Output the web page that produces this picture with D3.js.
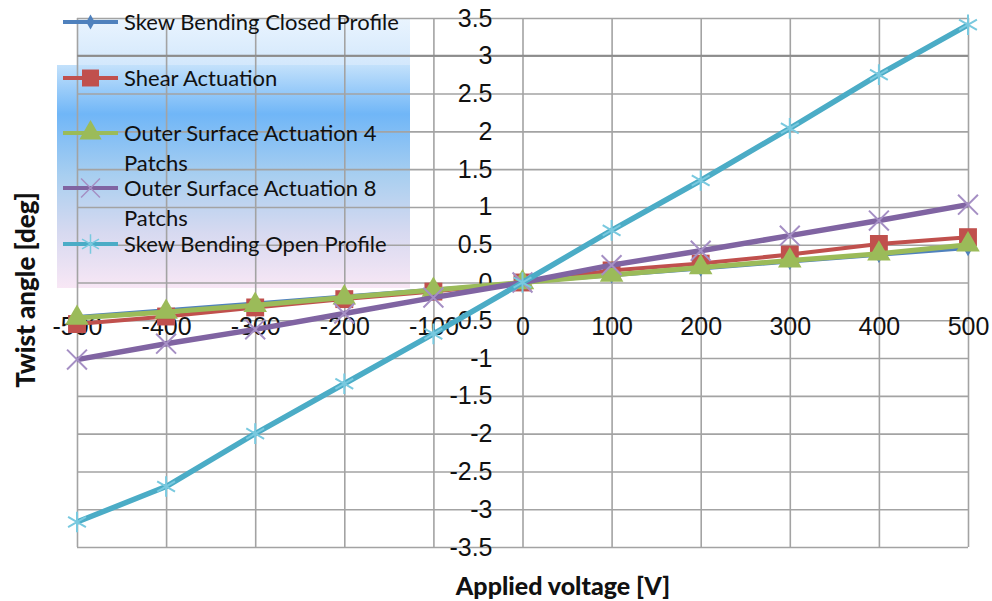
<!DOCTYPE html>
<html>
<head>
<meta charset="utf-8">
<script src="https://cdn.jsdelivr.net/npm/d3@7"></script>
<style>
  body { margin: 0; background: #fff; }
  svg { display: block; font-family: Lato, "Noto Sans", sans-serif; }
  .grid line { stroke: #a3a3a3; stroke-width: 1.6; }
  .grid .domain { display: none; }
  .ticks text { font-size: 25px; fill: #111; }
  .ticks .domain, .ticks line { display: none; }
</style>
</head>
<body>
<div id="chart"></div>
<script>
// data
var voltage = [-500, -400, -300, -200, -100, 0, 100, 200, 300, 400, 500];
var closedProfile = [-0.45, -0.36, -0.27, -0.18, -0.09, 0, 0.09, 0.18, 0.27, 0.36, 0.45];
var shearActuation = [-0.55, -0.45, -0.33, -0.22, -0.12, 0, 0.16, 0.25, 0.37, 0.51, 0.6];
var outer4Patches = [-0.47, -0.39, -0.3, -0.2, -0.1, 0, 0.1, 0.2, 0.29, 0.38, 0.5];
var outer8Patches = [-1.02, -0.81, -0.62, -0.41, -0.2, 0, 0.23, 0.42, 0.62, 0.82, 1.03];
var openProfile = [-3.17, -2.7, -2.0, -1.34, -0.68, 0, 0.69, 1.35, 2.04, 2.75, 3.41];

var xTicks = [-500, -400, -300, -200, -100, 0, 100, 200, 300, 400, 500];
var yTicks = [3.5, 3, 2.5, 2, 1.5, 1, 0.5, 0, -0.5, -1, -1.5, -2, -2.5, -3, -3.5];

var seriesNames = ["Skew Bending Closed Profile", "Shear Actuation",
  "Outer Surface Actuation 4 Patchs", "Outer Surface Actuation 8 Patchs",
  "Skew Bending Open Profile"];

var series = [
  {name: seriesNames[0], values: closedProfile, color: "#4f81bd", width: 3,
   symbol: d3.symbolDiamond, size: 70, mark: "#4f81bd", stroked: false},
  {name: seriesNames[1], values: shearActuation, color: "#c0504d", width: 4,
   symbol: d3.symbolSquare, size: 320, mark: "#c0504d", stroked: false},
  {name: seriesNames[2], values: outer4Patches, color: "#9bbb59", width: 5,
   symbol: d3.symbolTriangle, size: 240, mark: "#9bbb59", stroked: false},
  {name: seriesNames[3], values: outer8Patches, color: "#8064a2", width: 5.5,
   symbol: d3.symbolTimes, size: 260, mark: "#a58fc4", stroked: true},
  {name: seriesNames[4], values: openProfile, color: "#4bacc6", width: 5.5,
   symbol: d3.symbolAsterisk, size: 300, mark: "#79c9df", stroked: true}
];

var svgWidth = 992, svgHeight = 601;
var svg = d3.select("#chart").append("svg")
  .attr("width", svgWidth)
  .attr("height", svgHeight);

var x = d3.scaleLinear().domain([-500, 500]).range([77, 968]);
var y = d3.scaleLinear().domain([-3.5, 3.5]).range([547, 18]);

// gradients for the legend
var defs = svg.append("defs");
var lg = defs.append("linearGradient").attr("id", "legendFill")
  .attr("x1", 0).attr("y1", 0).attr("x2", 0).attr("y2", 1);
[[0, "#c3e1fb"], [0.22, "#70b6f7"], [0.5, "#a9cff0"], [0.75, "#d6d9f0"], [1, "#f8e7f5"]]
  .forEach(function(s) { lg.append("stop").attr("offset", s[0]).attr("stop-color", s[1]); });
var lgTop = defs.append("linearGradient").attr("id", "legendTop")
  .attr("x1", 0).attr("y1", 0).attr("x2", 0).attr("y2", 1);
[[0, "#eaf4fe"], [1, "#d3e8fc"]]
  .forEach(function(s) { lgTop.append("stop").attr("offset", s[0]).attr("stop-color", s[1]); });

// legend background sits behind the grid (grid shows through it)
svg.append("rect").attr("x", 77).attr("y", y(3.5)).attr("width", 333).attr("height", 65 - y(3.5))
  .attr("fill", "url(#legendTop)");
svg.append("rect").attr("x", 57).attr("y", 65).attr("width", 353).attr("height", 223)
  .attr("fill", "url(#legendFill)");

// grid
svg.append("g")
  .attr("class", "grid")
  .attr("transform", "translate(0," + y(-3.5) + ")")
  .call(d3.axisBottom(x).tickValues(xTicks).tickSize(-(y(-3.5) - y(3.5))).tickFormat(""));
svg.append("g")
  .attr("class", "grid")
  .attr("transform", "translate(" + x(-500) + ",0)")
  .call(d3.axisLeft(y).tickValues(yTicks).tickSize(-(x(500) - x(-500))).tickFormat(""));

// darker line at 3
svg.append("line")
  .attr("x1", x(-500)).attr("x2", x(500))
  .attr("y1", y(3)).attr("y2", y(3))
  .attr("stroke", "#8c8c8c").attr("stroke-width", 2);

// tick labels: y labels hang left of the zero line, x labels below the zero line
svg.append("g")
  .attr("class", "ticks")
  .attr("transform", "translate(" + x(0) + ",0)")
  .call(d3.axisLeft(y).tickValues(yTicks).tickSize(0).tickPadding(30)
    .tickFormat(function(d) { return String(d); }));
svg.append("g")
  .attr("class", "ticks")
  .attr("transform", "translate(0," + y(0) + ")")
  .call(d3.axisBottom(x).tickValues(xTicks).tickSize(0).tickPadding(35)
    .tickFormat(function(d) { return String(d); }));

// series
var line = d3.line()
  .x(function(d, i) { return x(voltage[i]); })
  .y(function(d) { return y(d); });

series.forEach(function(s) {
  svg.append("path")
    .datum(s.values)
    .attr("fill", "none")
    .attr("stroke", s.color)
    .attr("stroke-width", s.width)
    .attr("stroke-linejoin", "round")
    .attr("d", line);
  var sym = d3.symbol().type(s.symbol).size(s.size);
  svg.append("g").selectAll("path")
    .data(s.values)
    .enter().append("path")
    .attr("transform", function(d, i) { return "translate(" + x(voltage[i]) + "," + y(d) + ")"; })
    .attr("d", sym())
    .attr("fill", s.stroked ? "none" : s.mark)
    .attr("stroke", s.stroked ? s.mark : "none")
    .attr("stroke-width", 2);
});

// legend entries
var legendRows = [
  {y: 22, lines: ["Skew Bending Closed Profile"]},
  {y: 78, lines: ["Shear Actuation"]},
  {y: 133, lines: ["Outer Surface Actuation 4", "Patchs"]},
  {y: 188, lines: ["Outer Surface Actuation 8", "Patchs"]},
  {y: 244, lines: ["Skew Bending Open Profile"]}
];
var legend = svg.append("g").attr("class", "legend");
legendRows.forEach(function(r, i) {
  var s = series[i];
  legend.append("line")
    .attr("x1", 63).attr("x2", 118).attr("y1", r.y).attr("y2", r.y)
    .attr("stroke", s.color).attr("stroke-width", 4);
  legend.append("path")
    .attr("transform", "translate(90.5," + r.y + ")")
    .attr("d", d3.symbol().type(s.symbol).size(s.size * 0.9)())
    .attr("fill", s.stroked ? "none" : s.mark)
    .attr("stroke", s.stroked ? s.mark : "none")
    .attr("stroke-width", 1.5);
  r.lines.forEach(function(t, k) {
    legend.append("text")
      .attr("x", 124).attr("y", r.y + k * 30)
      .attr("dy", "0.35em")
      .attr("font-size", 22)
      .attr("fill", "#111")
      .text(t);
  });
});

// axis titles
svg.append("text")
  .attr("transform", "translate(26,290) rotate(-90)")
  .attr("text-anchor", "middle")
  .attr("dy", "0.35em")
  .attr("font-size", 26)
  .attr("font-weight", "900")
  .attr("fill", "#111")
  .text("Twist angle [deg]");
svg.append("text")
  .attr("x", 563).attr("y", 586)
  .attr("text-anchor", "middle")
  .attr("dy", "0.35em")
  .attr("font-size", 25)
  .attr("font-weight", "900")
  .attr("fill", "#111")
  .text("Applied voltage [V]");
</script>
</body>
</html>
